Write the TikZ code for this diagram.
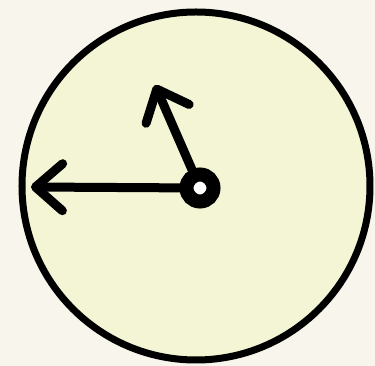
\documentclass[tikz,border=0pt]{standalone}
\usetikzlibrary{arrows.meta}
\definecolor{paper}{RGB}{248,245,236}
\definecolor{facefill}{RGB}{243,245,213}
\tikzset{
  % clock face and hub
  clockface/.style={
    circle,
    draw=black,
    fill=facefill,
    line width=1.4mm,
    inner sep=0pt,
    minimum size=69.6mm,
  },
  clockhub/.style={
    circle,
    draw=black,
    fill=white,
    line width=2.8mm,
    inner sep=0pt,
    minimum size=5.4mm,
  },
  % hands: thick bars with an open barb at the end
  clockhand/.style={
    line width=1.8mm,
    line cap=round,
    line join=round,
    -{Straight Barb[length=5.4mm, width=9.4mm, line join=round, line cap=round]},
  },
}

\begin{document}
\begin{tikzpicture}[x=0.2mm, y=-0.2mm]
  \fill[paper] (0,0) rectangle (375,366);
  \useasboundingbox (0,0) rectangle (375,366);

  \node[clockface] (face) at (196,186) {};
  \node[clockhub] (hub) at (200,188) {};

  \coordinate (minute) at (31,187);
  \coordinate (hour) at (155,85);

  \draw[clockhand] (hub) -- (minute);
  \draw[clockhand] (hub) -- (hour);
\end{tikzpicture}
\end{document}
